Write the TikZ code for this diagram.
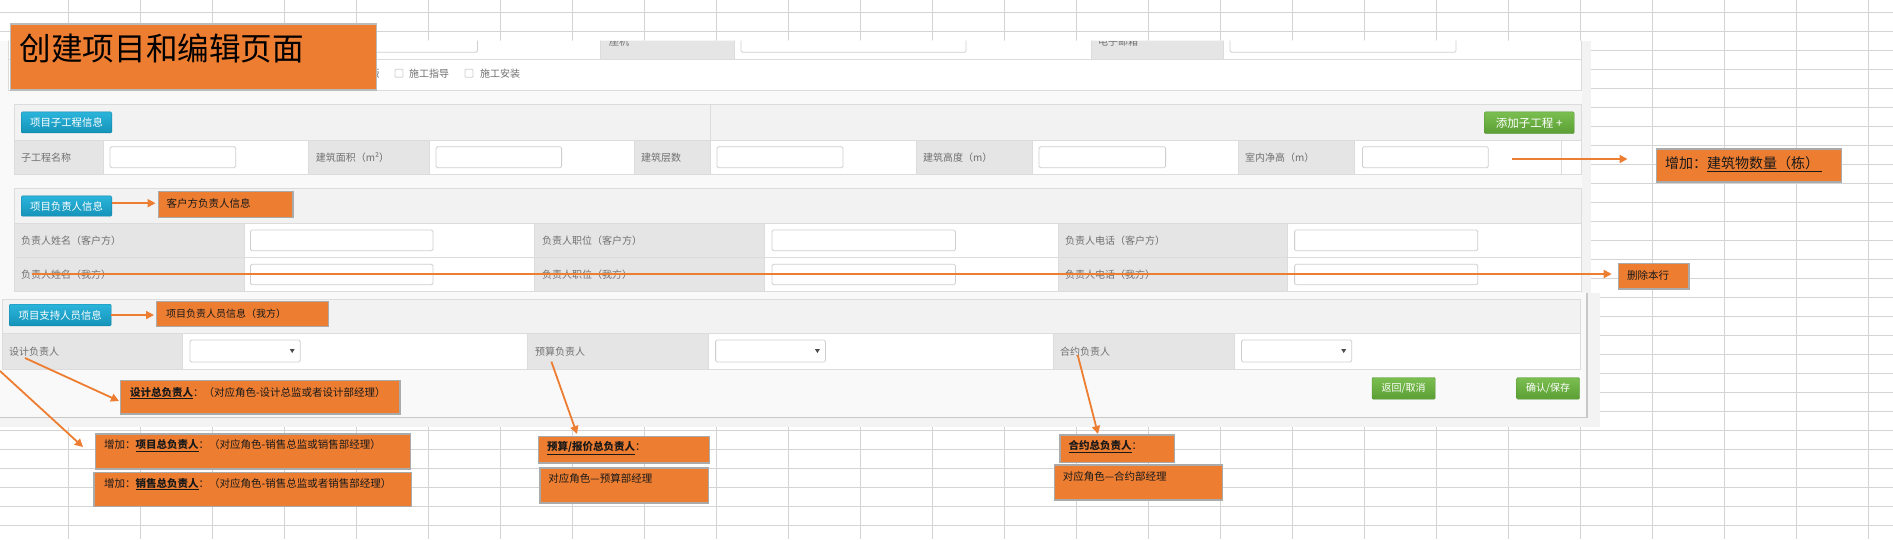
\documentclass[tikz,border=0pt]{standalone}
\usepackage{fontspec}
\setmainfont{Noto Sans CJK SC}
\usetikzlibrary{arrows.meta,calc}
\definecolor{ora}{HTML}{ED7D31}
\definecolor{obord}{HTML}{AAAAAA}
\definecolor{gridc}{HTML}{D4D4D4}
\definecolor{pagebg}{HTML}{F9F9F9}
\definecolor{stripc}{HTML}{F3F3F3}
\definecolor{hdr}{HTML}{F2F2F2}
\definecolor{lblc}{HTML}{E5E5E5}
\definecolor{bordc}{HTML}{DCDCDC}
\definecolor{inbord}{HTML}{CFCFCF}
\definecolor{shadc}{HTML}{C8C8C8}
\definecolor{txtg}{HTML}{707070}
\definecolor{bluet}{HTML}{2BB4DB}
\definecolor{blueb}{HTML}{1593B9}
\definecolor{greent}{HTML}{7BBE50}
\definecolor{greenb}{HTML}{5B9F35}
\newcommand\myfs[1]{\fontsize{#1}{#1}\selectfont}
\newcommand\longdash{\makebox[1em][c]{\rule[0.33em]{0.95em}{0.07em}}}
\tikzset{
  gridline/.style={draw=gridc, line width=1pt},
  cellg/.style={fill=lblc, draw=bordc, line width=0.8pt},
  cellw/.style={fill=white, draw=bordc, line width=0.8pt},
  inbox/.style={fill=white, draw=inbord, line width=0.8pt, rounded corners=1.5pt},
  lbl/.style={font=\myfs{10}, text=txtg, anchor=base west, inner sep=0pt},
  btnbase/.style={anchor=north west, inner sep=0pt, text=white, rounded corners=1.2pt},
  bluebtn/.style={btnbase, top color=bluet, bottom color=blueb, draw=blueb!90!black, font=\myfs{10.4}},
  greenbtn/.style={btnbase, top color=greent, bottom color=greenb, draw=greenb!90!black, font=\myfs{10}},
  obox/.style={fill=ora, draw=obord, line width=1.3pt, inner sep=0pt, anchor=north west},
  otext/.style={font=\myfs{10.5}, text=black!90, anchor=base west, inner sep=0pt},
  oarrow/.style={draw=ora, line width=1.8pt, -{Triangle[length=8pt,width=8pt]}},
  ddtri/.style={fill=black!70},
  chk/.style={draw=inbord, fill=white, rounded corners=1pt, line width=0.8pt},
}
\begin{document}
\begin{tikzpicture}[x=1pt,y=-1pt]
\useasboundingbox (0,0) rectangle (1893,539);
\fill[white] (0,0) rectangle (1893,539);
% spreadsheet grid
\foreach \i in {0,...,25} \draw[gridline] ({68.5+72*\i},0) -- ({68.5+72*\i},539);
\foreach \j in {0,...,27} \draw[gridline] (0,{12.3+19*\j}) -- (1893,{12.3+19*\j});

% ---------- screenshot of the form ----------
\begin{scope}
\clip (0,40.7) rectangle (1591,293.5) (0,293) rectangle (1600.7,427);
\fill[stripc] (0,40.7) rectangle (1591,293.5);
\fill[pagebg] (0,40.7) rectangle (1581.5,293.5);
\fill[stripc] (0,293) rectangle (1600.7,427);
\fill[pagebg] (0,293) rectangle (1587,417.7);
\draw[shadc, line width=1.4pt] (0,417.7) -- (1587,417.7) -- (1587,293);

% top section (contact row + checkboxes)
\fill[white] (8,36) rectangle (1581.5,90);
\draw[bordc, line width=0.8pt] (8,36) -- (8,90) -- (1581.5,90) -- (1581.5,36);
\draw[bordc, line width=0.8pt] (8,59.3) -- (1581.5,59.3);
\draw[cellg] (600,36) rectangle (734,59.3);
\draw[cellg] (1091,36) rectangle (1223,59.3);
\draw[inbox] (250,34) rectangle (477.5,52.3);
\draw[inbox] (741,34) rectangle (966,52.3);
\draw[inbox] (1230,34) rectangle (1456,52.3);
\node[lbl] (tzj) at (609,45.5) {座机};
\node[lbl] (tdz) at (1098,45.5) {电子邮箱};
\node[lbl] (tban) at (369.5,77) {版};
\draw[chk] (395,69.3) rectangle (403,77.3);
\node[lbl] (tzd) at (409,77) {施工指导};
\draw[chk] (465,69.3) rectangle (473,77.3);
\node[lbl] (taz) at (480,77) {施工安装};

% panel 1: sub-projects
\fill[hdr] (14.3,104.3) rectangle (1581.5,140);
\draw[bordc, line width=0.8pt] (14.3,104.3) rectangle (1581.5,174.3);
\draw[bordc, line width=0.8pt] (710,104.3) -- (710,140);
\draw[cellg] (14.3,140) rectangle (103.3,174.3);
\draw[cellw] (103.3,140) rectangle (308,174.3);
\draw[cellg] (308,140) rectangle (429.5,174.3);
\draw[cellw] (429.5,140) rectangle (634,174.3);
\draw[cellg] (634,140) rectangle (710,174.3);
\draw[cellw] (710,140) rectangle (916.5,174.3);
\draw[cellg] (916.5,140) rectangle (1032.6,174.3);
\draw[cellw] (1032.6,140) rectangle (1238.4,174.3);
\draw[cellg] (1238.4,140) rectangle (1354.8,174.3);
\draw[cellw] (1354.8,140) rectangle (1561.7,174.3);
\draw[cellw] (1561.7,140) rectangle (1581.5,174.3);
\foreach \a/\b in {110/235.7,436/561.6,717/843,1039/1165.6,1362.4/1488.3}
  \draw[inbox] (\a,146.7) rectangle (\b,167.7);
\node[lbl] (l11) at (21,161) {子工程名称};
\node[lbl] (l12) at (315.6,161) {建筑面积（m²）};
\node[lbl] (l13) at (641,161) {建筑层数};
\node[lbl] (l14) at (923,161) {建筑高度（m）};
\node[lbl] (l15) at (1245,161) {室内净高（m）};
\node[bluebtn, minimum width=90.6pt, minimum height=21pt] (btn1) at (21,111.7) {项目子工程信息};
\node[greenbtn, font=\myfs{11.5}, minimum width=90pt, minimum height=21.6pt] (btnadd) at (1484,111.7) {添加子工程 +};

% panel 2: responsible persons
\fill[hdr] (14.3,188.3) rectangle (1581.5,223.3);
\draw[bordc, line width=0.8pt] (14.3,188.3) rectangle (1581.5,291.3);
\foreach \ya/\yb in {223.3/257.3,257.3/291.3}{
  \draw[cellg] (14.3,\ya) rectangle (244.2,\yb);
  \draw[cellw] (244.2,\ya) rectangle (534.8,\yb);
  \draw[cellg] (534.8,\ya) rectangle (764.7,\yb);
  \draw[cellw] (764.7,\ya) rectangle (1058.5,\yb);
  \draw[cellg] (1058.5,\ya) rectangle (1287.5,\yb);
  \draw[cellw] (1287.5,\ya) rectangle (1581.5,\yb);
}
\foreach \a/\b in {250.4/433,771.9/955.4,1294.6/1477.8}{
  \draw[inbox] (\a,230) rectangle (\b,250.7);
  \draw[inbox] (\a,264.3) rectangle (\b,284.7);
}
\node[lbl] (l21) at (21,244) {负责人姓名（客户方）};
\node[lbl] (l22) at (542,244) {负责人职位（客户方）};
\node[lbl] (l23) at (1065,244) {负责人电话（客户方）};
\node[lbl] (l24) at (21,278) {负责人姓名（我方）};
\node[lbl] (l25) at (542,278) {负责人职位（我方）};
\node[lbl] (l26) at (1065,278) {负责人电话（我方）};
\node[bluebtn, minimum width=90.6pt, minimum height=20.3pt] (btn2) at (21,195.7) {项目负责人信息};

% panel 3: support staff
\fill[hdr] (2,299) rectangle (1580,333.3);
\draw[bordc, line width=0.8pt] (2,299) rectangle (1580,369.3);
\draw[cellg] (2,333.3) rectangle (182.4,369.3);
\draw[cellw] (182.4,333.3) rectangle (527.4,369.3);
\draw[cellg] (527.4,333.3) rectangle (708.5,369.3);
\draw[cellw] (708.5,333.3) rectangle (1053,369.3);
\draw[cellg] (1053,333.3) rectangle (1234,369.3);
\draw[cellw] (1234,333.3) rectangle (1580,369.3);
\foreach \a/\b in {190/300.2,715.6/825.4,1241.5/1351.7}{
  \draw[inbox] (\a,340) rectangle (\b,362);
  \fill[ddtri] (\b-10.5,349) -- (\b-5.5,349) -- (\b-8,353) -- cycle;
}
\node[lbl] (l31) at (9,355.2) {设计负责人};
\node[lbl] (l32) at (534.8,355.2) {预算负责人};
\node[lbl] (l33) at (1059.8,355.2) {合约负责人};
\node[bluebtn, minimum width=102pt, minimum height=21.7pt] (btn3) at (9,304) {项目支持人员信息};
\node[greenbtn, minimum width=63.2pt, minimum height=21.7pt] (btnback) at (1371.8,377.3) {返回/取消};
\node[greenbtn, minimum width=62.8pt, minimum height=21.7pt] (btnok) at (1516.5,377.3) {确认/保存};
\end{scope}

% ---------- annotations ----------
\node[obox, draw=obord!80, minimum width=365.8pt, minimum height=66pt] (title) at (9.7,23.3) {};
\node[anchor=base west, inner sep=0pt, font=\myfs{31.6}, text=black] (titletext) at (19.6,60) {创建项目和编辑页面};

\node[obox, minimum width=134.8pt, minimum height=25.7pt] (a1) at (157.6,191) {};
\node[otext] (a1t) at (166.5,207.2) {客户方负责人信息};

\node[obox, minimum width=171.5pt, minimum height=25pt] (a2) at (156,301) {};
\node[otext, font=\myfs{10}] (a2t) at (166,317.2) {项目负责人员信息（我方）};

\node[obox, minimum width=185.3pt, minimum height=33pt] (zj) at (1655.5,148.3) {};
\node[otext, font=\myfs{14}] (zjt) at (1665,168.5) {增加：\underline{建筑物数量（栋）\,}};

\node[obox, minimum width=70.7pt, minimum height=25.6pt] (del) at (1617.7,262.7) {};
\node[otext] (delt) at (1627,279.2) {删除本行};

\node[obox, minimum width=279.3pt, minimum height=33.3pt] (sj) at (120,380) {};
\node[otext] (sjt) at (129.8,396.2) {\underline{\textbf{设计总负责人}}：（对应角色-设计总监或者设计部经理）};

\node[obox, minimum width=315.2pt, minimum height=35pt] (xm) at (94.6,433.3) {};
\node[otext] (xmt) at (104,448.9) {增加：\underline{\textbf{项目总负责人}}：（对应角色-销售总监或销售部经理）};

\node[obox, minimum width=317.4pt, minimum height=34.3pt] (xs) at (93.3,471.7) {};
\node[otext] (xst) at (104,487.2) {增加：\underline{\textbf{销售总负责人}}：（对应角色-销售总监或者销售部经理）};

\node[obox, minimum width=171pt, minimum height=26.6pt] (ys) at (538,435.7) {};
\node[otext] (yst) at (547,450.6) {\underline{\textbf{预算/报价总负责人}}：};

\node[obox, minimum width=168.3pt, minimum height=35pt] (ys2) at (539.3,467.3) {};
\node[otext] (ys2t) at (548.2,482.9) {对应角色—预算部经理};

\node[obox, minimum width=114.2pt, minimum height=27.4pt] (hy) at (1059.3,434.3) {};
\node[otext] (hyt) at (1068.5,449.9) {\underline{\textbf{合约总负责人}}：};

\node[obox, minimum width=168pt, minimum height=35pt] (hy2) at (1054,464.3) {};
\node[otext] (hy2t) at (1062.6,480.6) {对应角色—合约部经理};

% ---------- connectors ----------
\coordinate (d0) at (32,274);
\coordinate (z0) at (1512,159);
\coordinate (s0) at (25,358);
\coordinate (s1) at (119,401);
\coordinate (p0) at (0,371);
\coordinate (p1) at (83,447);
\coordinate (b0) at (551.4,361.7);
\coordinate (b1) at (577,434);
\coordinate (h0) at (1077.7,355);
\coordinate (h1) at (1098,434);

\draw[oarrow, shorten >=2pt] (btn2.east |- a1t.west) -- (a1t.west -| a1.west);
\draw[oarrow, shorten >=2pt] (btn3.east) -- (btn3.east -| a2.west);
\draw[oarrow, shorten >=6pt] (d0) -- (d0 -| del.west);
\draw[oarrow, shorten >=28pt] (z0) -- (z0 -| zj.west);
\draw[oarrow] (s0) -- (s1);
\draw[oarrow] (p0) -- (p1);
\draw[oarrow] (b0) -- (b1);
\draw[oarrow] (h0) -- (h1);
\end{tikzpicture}
\end{document}
